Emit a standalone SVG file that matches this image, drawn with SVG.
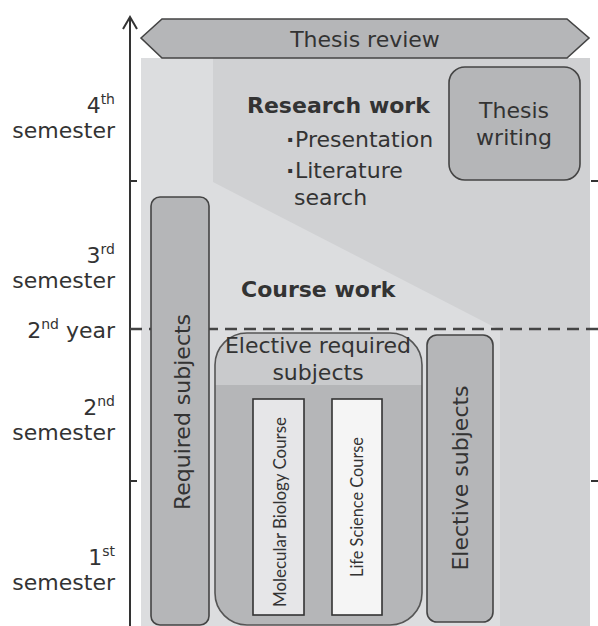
<svg xmlns="http://www.w3.org/2000/svg" width="598" height="626" viewBox="0 0 598 626">
<defs>
<style>
.t{font-family:"DejaVu Sans","Verdana",sans-serif;fill:#333;font-size:22px}
.b{font-weight:bold}
.c{font-family:Lato,"Open Sans",sans-serif;fill:#333;font-size:18px}
.box{fill:#b5b6b8;stroke:#444;stroke-width:1.6}
.ax{stroke:#333;stroke-width:2;fill:none}
</style>
<clipPath id="erclip"><rect x="215" y="333" width="207" height="292" rx="32"/></clipPath>
</defs>
<rect width="598" height="626" fill="#fff"/>
<g id="background">
<rect x="141" y="58" width="449" height="568" fill="#d0d1d3"/>
<polygon points="141,58 213,58 213,182 500,330 500,626 141,626" fill="#dcdddf"/>
</g>
<g id="axis">
<line class="ax" x1="130" y1="17" x2="130" y2="626"/>
<polyline class="ax" points="123,29 130,17 137,29"/>
<line class="ax" x1="130" y1="181" x2="137" y2="181"/>
<line class="ax" x1="130" y1="481" x2="137" y2="481"/>
<line class="ax" x1="591" y1="181" x2="598" y2="181"/>
<line class="ax" x1="591" y1="481" x2="598" y2="481"/>
<line x1="130" y1="329" x2="598" y2="329" stroke="#444" stroke-width="2.5" stroke-dasharray="12,7"/>
</g>
<g id="labels" class="t" text-anchor="end">
<text x="115" y="113">4<tspan font-size="14" dy="-9">th</tspan></text>
<text x="115" y="138">semester</text>
<text x="115" y="263">3<tspan font-size="14" dy="-9">rd</tspan></text>
<text x="115" y="288">semester</text>
<text x="115" y="338">2<tspan font-size="14" dy="-9">nd</tspan><tspan dy="9"> year</tspan></text>
<text x="115" y="415">2<tspan font-size="14" dy="-9">nd</tspan></text>
<text x="115" y="440">semester</text>
<text x="115" y="565">1<tspan font-size="14" dy="-9">st</tspan></text>
<text x="115" y="590">semester</text>
</g>
<g id="thesis-review">
<polygon class="box" points="141,38 162,19 567,19 589,38 567,58 162,58"/>
<text class="t" x="365" y="47" text-anchor="middle">Thesis review</text>
</g>
<g id="research-work">
<text class="t b" x="247" y="113">Research work</text>
<text class="t b" x="286" y="147">·</text>
<text class="t" x="295" y="147">Presentation</text>
<text class="t b" x="286" y="178">·</text>
<text class="t" x="295" y="178">Literature</text>
<text class="t" x="294" y="205">search</text>
</g>
<g id="thesis-writing">
<rect class="box" x="449" y="67" width="131" height="113" rx="16"/>
<text class="t" x="514" y="118" text-anchor="middle">Thesis</text>
<text class="t" x="514" y="145" text-anchor="middle">writing</text>
</g>
<g id="course-work">
<text class="t b" x="241" y="297">Course work</text>
</g>
<g id="required-subjects">
<rect class="box" x="151" y="197" width="58" height="428" rx="9"/>
<text class="t" transform="translate(190,412) rotate(-90)" text-anchor="middle">Required subjects</text>
</g>
<g id="elective-required-subjects">
<g clip-path="url(#erclip)">
<rect x="215" y="333" width="207" height="292" fill="#c9cacc"/>
<rect x="215" y="385" width="207" height="240" fill="#b5b6b8"/>
</g>
<rect x="215" y="333" width="207" height="292" rx="32" fill="none" stroke="#555" stroke-width="1.6"/>
<text class="t" x="318" y="353" text-anchor="middle">Elective required</text>
<text class="t" x="318" y="380" text-anchor="middle">subjects</text>
</g>
<g id="molecular-biology-course">
<rect x="253" y="399" width="51" height="216" fill="#e6e6e8" stroke="#333" stroke-width="1.6"/>
<text class="c" transform="translate(286,512) rotate(-90)" text-anchor="middle" textLength="190" lengthAdjust="spacingAndGlyphs">Molecular Biology Course</text>
</g>
<g id="life-science-course">
<rect x="332" y="399" width="50" height="216" fill="#f5f5f5" stroke="#333" stroke-width="1.6"/>
<text class="c" transform="translate(363,507) rotate(-90)" text-anchor="middle" textLength="140" lengthAdjust="spacingAndGlyphs">Life Science Course</text>
</g>
<g id="elective-subjects">
<rect class="box" x="427" y="335" width="66" height="287" rx="10"/>
<text class="t" transform="translate(468,478) rotate(-90)" text-anchor="middle">Elective subjects</text>
</g>
</svg>
